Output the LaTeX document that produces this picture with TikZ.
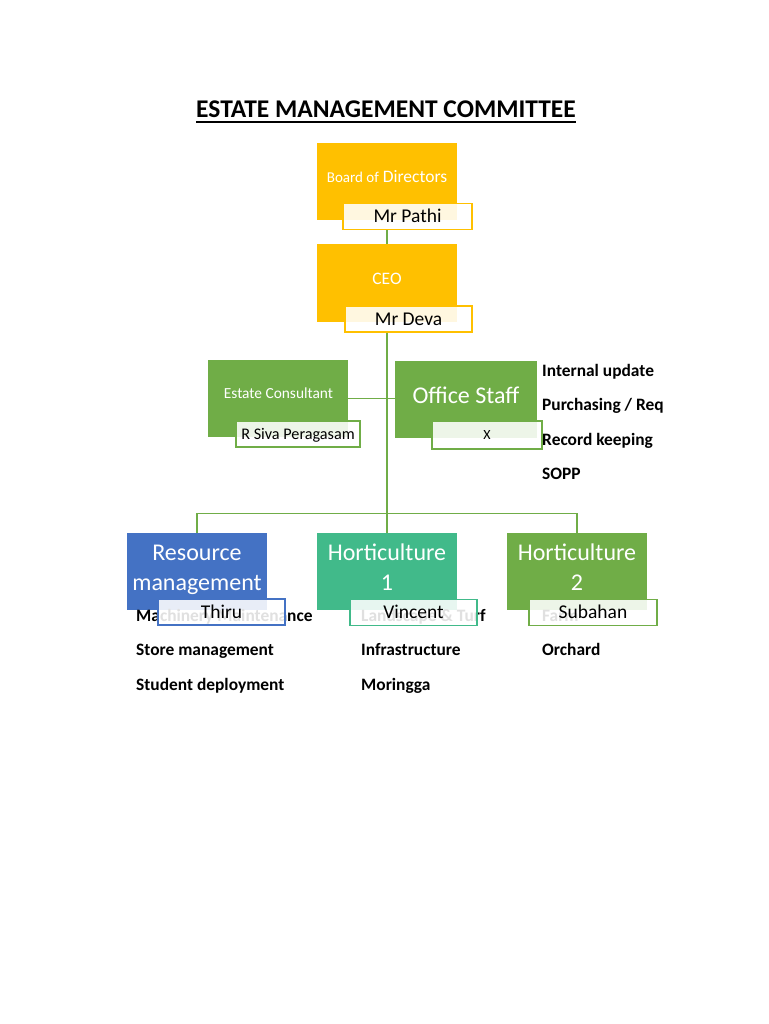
\documentclass[tikz,border=0pt]{standalone}
\usepackage{fontspec}
\setmainfont{Carlito}
\usetikzlibrary{calc}
\definecolor{gold}{HTML}{FFC000}
\definecolor{leaf}{HTML}{70AD47}
\definecolor{sky}{HTML}{4472C4}
\definecolor{mint}{HTML}{41BA8A}
\begin{document}
\begin{tikzpicture}[x=1pt,y=-1pt,
    box/.style={minimum width=140pt,minimum height=77pt,inner sep=0pt},
    boxtext/.style={text=white,anchor=base,inner sep=0pt,align=center},
    namebox/.style={draw=#1,line width=1.1pt,fill=white,fill opacity=0.88,text opacity=1,
        minimum height=26.5pt,inner sep=0pt,text height=12.3pt,text depth=0pt,
        font=\fontsize{19.5}{23}\selectfont},
    duty/.style={anchor=base west,inner sep=0pt,font=\bfseries\fontsize{17.4}{20}\selectfont},
    link/.style={leaf,line width=1.2pt}]
    \useasboundingbox[fill=white] (0,0) rectangle (768,1024);
    % title
    \node[font=\bfseries\fontsize{25.5}{30}\selectfont,anchor=base,inner sep=0pt] (title) at (386,118) {ESTATE MANAGEMENT COMMITTEE};
    \draw[line width=1.6pt] ([yshift=-4pt]title.base west) -- ([yshift=-4pt]title.base east);
    % top of the chart
    \node[box,fill=gold] (board) at (387,181.5) {};
    \node[boxtext,font=\fontsize{17.5}{21}\selectfont] (boardtxt) at (387,182.3) {{\fontsize{15}{18}\selectfont Board of} Directors};
    \node[box,fill=gold,minimum height=78pt] (ceo) at (387,283) {};
    \node[boxtext,font=\fontsize{17.5}{20}\selectfont] (ceotxt) at (387,284.3) {CEO};
    \node[box,fill=leaf] (estate) at (278,398.5) {};
    \node[boxtext,font=\fontsize{15.4}{18}\selectfont] (estatetxt) at (278.5,398) {Estate Consultant};
    \node[box,fill=leaf,minimum width=142pt] (office) at (466,399.5) {};
    \node[boxtext,font=\fontsize{24}{29}\selectfont] (officetxt) at (466,403.3) {Office Staff};
    % departments
    \node[box,fill=sky] (res) at (197,571.5) {};
    \node[boxtext,font=\fontsize{24}{30.5}\selectfont] (restxt) at (197,590.5) {Resource\\management};
    \node[box,fill=mint] (hort1) at (387,571.5) {};
    \node[boxtext,font=\fontsize{24}{30.5}\selectfont] (hort1txt) at (387,590.5) {Horticulture\\1};
    \node[box,fill=leaf] (hort2) at (577,571.5) {};
    \node[boxtext,font=\fontsize{24}{30.5}\selectfont] (hort2txt) at (577,590.5) {Horticulture\\2};
    % duties
    \node[duty] (dutyA) at (542,376) {Internal update};
    \node[duty] (dutyB) at (542,410.5) {Purchasing / Req};
    \node[duty] (dutyC) at (542,445) {Record keeping};
    \node[duty] (dutyD) at (542,479.5) {SOPP};
    \node[duty] (resA) at (136,621) {Machinery Maintenance};
    \node[duty] (resB) at (136,655.5) {Store management};
    \node[duty] (resC) at (136,690) {Student deployment};
    \node[duty] (horA) at (361,621) {Landscape \& Turf};
    \node[duty] (horB) at (361,655.5) {Infrastructure};
    \node[duty] (horC) at (361,690) {Moringga};
    \node[duty] (farA) at (542,621) {Farm};
    \node[duty] (farB) at (542,655.5) {Orchard};
    % names
    \node[namebox=gold,minimum width=129pt] (pathi) at (407.5,216.5) {Mr Pathi};
    \node[namebox=gold,minimum width=127pt,minimum height=26pt] (deva) at (408.5,319) {Mr Deva};
    \node[namebox=leaf,minimum width=124pt,minimum height=26pt,font=\fontsize{16.2}{19}\selectfont,text height=10.2pt] (siva) at (298,434) {R Siva Peragasam};
    \node[namebox=leaf,minimum width=110pt,minimum height=28pt,font=\fontsize{14}{17}\selectfont,text height=8.8pt] (xname) at (487,435) {X};
    \node[namebox=sky,minimum width=127pt,minimum height=26pt] (thiru) at (221.5,612) {Thiru};
    \node[namebox=mint,minimum width=127pt] (vincent) at (413.5,612.5) {Vincent};
    \node[namebox=leaf,minimum width=128pt] (subahan) at (593,612.5) {Subahan};
    % connectors
    \coordinate (fork) at (387,513.5);
    \draw[link] (board.south |- pathi.south) -- (ceo.north);
    \draw[link] (ceo.south |- deva.south) -- (hort1.north);
    \draw[link] (estate.east) -- (estate.east -| office.west);
    \draw[link] (res.north) |- (fork) -| (hort2.north);
\end{tikzpicture}
\end{document}
